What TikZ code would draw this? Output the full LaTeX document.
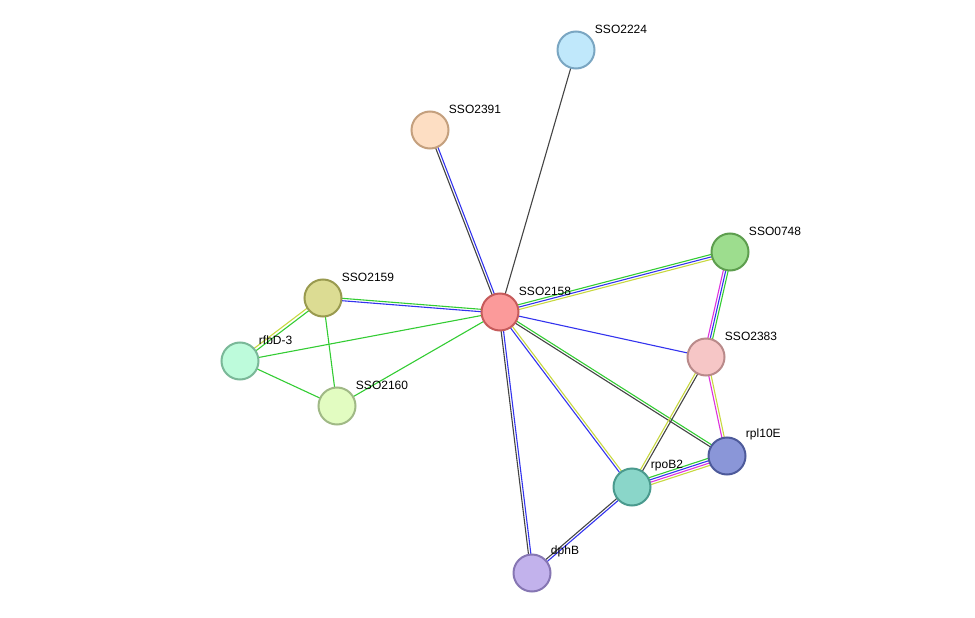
\documentclass[tikz,border=0pt]{standalone}
\usepackage{fontspec}
\setmainfont{Liberation Sans}
\usetikzlibrary{calc}
\definecolor{eg}{HTML}{33CC33}
\definecolor{eb}{HTML}{3333EE}
\definecolor{ey}{HTML}{C8D840}
\definecolor{ek}{HTML}{444444}
\definecolor{em}{HTML}{DD33DD}
\definecolor{f1}{HTML}{c0e8fb}\definecolor{d1}{HTML}{7aa6c2}
\definecolor{f2}{HTML}{fddec3}\definecolor{d2}{HTML}{c4a07e}
\definecolor{f3}{HTML}{9ddd8e}\definecolor{d3}{HTML}{5d9e4e}
\definecolor{f4}{HTML}{dcdc93}\definecolor{d4}{HTML}{999a4f}
\definecolor{f5}{HTML}{fb9a9a}\definecolor{d5}{HTML}{c65b5b}
\definecolor{f6}{HTML}{bdfbdb}\definecolor{d6}{HTML}{7ab898}
\definecolor{f7}{HTML}{f6c6c6}\definecolor{d7}{HTML}{b98a8a}
\definecolor{f8}{HTML}{e2fcc1}\definecolor{d8}{HTML}{a0b986}
\definecolor{f9}{HTML}{8a96d8}\definecolor{d9}{HTML}{4d5a9a}
\definecolor{f10}{HTML}{8ad6c9}\definecolor{d10}{HTML}{4a9a8e}
\definecolor{f11}{HTML}{c2b2ec}\definecolor{d11}{HTML}{8676b3}
\newcommand\ed[3]{\foreach \o/\c in {#3}{\draw[line width=1.1pt,\c] ($(#1)!\o pt!90:(#2)$) -- ($(#2)!\o pt!-90:(#1)$);}}
\begin{document}
\begin{tikzpicture}[x=1pt,y=-1pt,
 prot/.style n args={2}{circle,minimum size=37pt,inner sep=0pt,line width=2pt,fill=f#1,draw=d#1,label={[font=\fontsize{12}{13}\selectfont,anchor=south west,inner sep=0pt,xshift=5pt,yshift=2pt]45:#2}}]
\useasboundingbox (0,0) rectangle (975,618);
\foreach \n/\x/\y in {s2224/576/50,s2391/430/130,s0748/730/252,s2159/323/298,s2158/500/312,rfbd/240/361,s2383/706/357,s2160/337/406,rpl/727/456,rpo/632/487,dph/532/573}
  \coordinate (\n c) at (\x,\y);
\ed{s2158c}{s2224c}{0/ek}
\ed{s2158c}{s2391c}{-1.2/eb,1.2/ek}
\ed{s2158c}{s0748c}{-2.4/ey,0/eb,2.4/eg}
\ed{s2158c}{s2159c}{-1.2/eg,1.2/eb}
\ed{s2158c}{rfbdc}{0/eg}
\ed{s2158c}{s2160c}{0/eg}
\ed{s2158c}{s2383c}{0/eb}
\ed{s2158c}{rplc}{-1.2/ek,1.2/eg}
\ed{s2158c}{rpoc}{-1.2/eb,1.2/ey}
\ed{s2158c}{dphc}{-1.2/ek,1.2/eb}
\ed{s2159c}{rfbdc}{-1.5/ey,1.5/eg}
\ed{s2159c}{s2160c}{0/eg}
\ed{rfbdc}{s2160c}{0/eg}
\ed{s0748c}{s2383c}{-2.4/em,0/eb,2.4/eg}
\ed{s2383c}{rpoc}{-1.2/ey,1.2/ek}
\ed{s2383c}{rplc}{-1.2/em,1.2/ey}
\ed{rpoc}{rplc}{-3.6/ey,-1.2/em,1.2/eb,3.6/eg}
\ed{rpoc}{dphc}{-1.2/ek,1.2/eb}
\node[prot={1}{SSO2224}] (s2224) at (s2224c) {};
\node[prot={2}{SSO2391}] (s2391) at (s2391c) {};
\node[prot={3}{SSO0748}] (s0748) at (s0748c) {};
\node[prot={4}{SSO2159}] (s2159) at (s2159c) {};
\node[prot={5}{SSO2158}] (s2158) at (s2158c) {};
\node[prot={6}{rfbD-3}] (rfbd) at (rfbdc) {};
\node[prot={7}{SSO2383}] (s2383) at (s2383c) {};
\node[prot={8}{SSO2160}] (s2160) at (s2160c) {};
\node[prot={9}{rpl10E}] (rpl) at (rplc) {};
\node[prot={10}{rpoB2}] (rpo) at (rpoc) {};
\node[prot={11}{dphB}] (dph) at (dphc) {};
\end{tikzpicture}
\end{document}
